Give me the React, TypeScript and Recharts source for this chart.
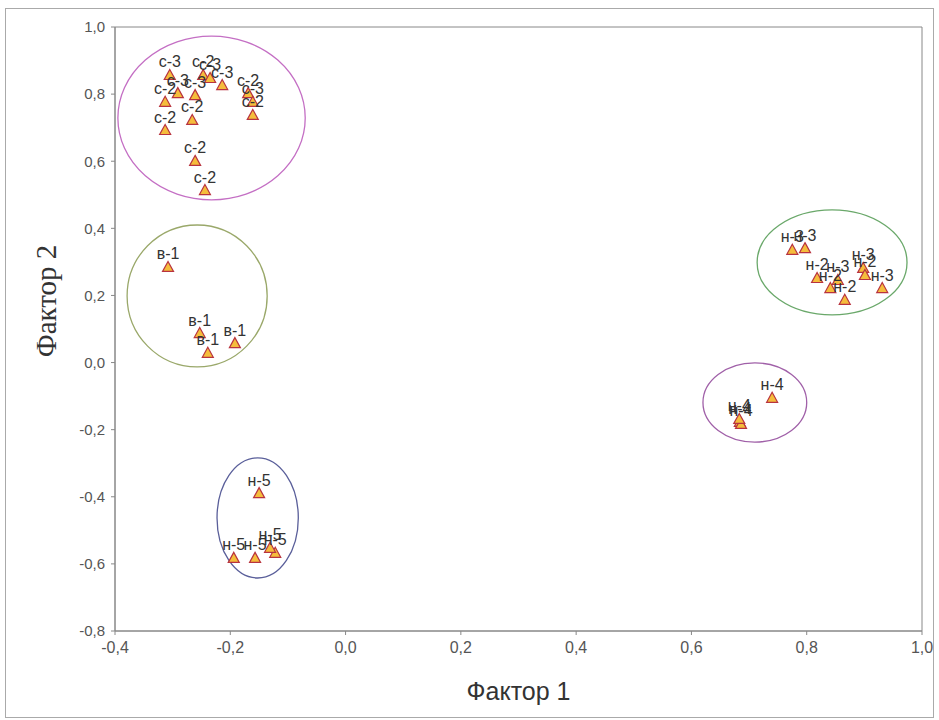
import React from 'react';
import {
  ScatterChart,
  Scatter,
  XAxis,
  YAxis,
  ReferenceArea,
  LabelList,
} from 'recharts';

// points per cluster
const clusterC = [
  { x: -0.305, y: 0.857, label: 'с-3' },
  { x: -0.291, y: 0.803, label: 'с-3' },
  { x: -0.313, y: 0.777, label: 'с-2' },
  { x: -0.261, y: 0.797, label: 'с-3' },
  { x: -0.247, y: 0.857, label: 'с-2' },
  { x: -0.235, y: 0.848, label: 'с-3' },
  { x: -0.214, y: 0.827, label: 'с-3' },
  { x: -0.169, y: 0.803, label: 'с-2' },
  { x: -0.161, y: 0.777, label: 'с-3' },
  { x: -0.161, y: 0.738, label: 'с-2' },
  { x: -0.266, y: 0.723, label: 'с-2' },
  { x: -0.313, y: 0.693, label: 'с-2' },
  { x: -0.261, y: 0.601, label: 'с-2' },
  { x: -0.244, y: 0.514, label: 'с-2' },
];

const clusterV = [
  { x: -0.308, y: 0.285, label: 'в-1' },
  { x: -0.253, y: 0.088, label: 'в-1' },
  { x: -0.239, y: 0.029, label: 'в-1' },
  { x: -0.192, y: 0.058, label: 'в-1' },
];

const clusterN5 = [
  { x: -0.15, y: -0.389, label: 'н-5' },
  { x: -0.194, y: -0.582, label: 'н-5' },
  { x: -0.157, y: -0.582, label: 'н-5' },
  { x: -0.122, y: -0.567, label: 'н-5' },
  { x: -0.131, y: -0.552, label: 'н-5' },
];

const clusterN4 = [
  { x: 0.74, y: -0.105, label: 'н-4' },
  { x: 0.684, y: -0.177, label: 'н-4' },
  { x: 0.686, y: -0.183, label: 'н-4' },
  { x: 0.683, y: -0.168, label: 'н-4' },
];

const clusterN3 = [
  { x: 0.775, y: 0.336, label: 'н-3' },
  { x: 0.797, y: 0.341, label: 'н-3' },
  { x: 0.818, y: 0.252, label: 'н-2' },
  { x: 0.854, y: 0.246, label: 'н-3' },
  { x: 0.841, y: 0.222, label: 'н-2' },
  { x: 0.866, y: 0.187, label: 'н-2' },
  { x: 0.898, y: 0.282, label: 'н-3' },
  { x: 0.901, y: 0.261, label: 'н-2' },
  { x: 0.931, y: 0.222, label: 'н-3' },
];

const clusters = [clusterC, clusterV, clusterN5, clusterN4, clusterN3];

// bounding boxes of the hand-drawn ellipses, in data units
const ellipseBounds = [
  { x1: -0.395, x2: -0.07, y1: 0.485, y2: 0.973 },
  { x1: -0.379, x2: -0.136, y1: -0.013, y2: 0.41 },
  { x1: -0.223, x2: -0.082, y1: -0.642, y2: -0.284 },
  { x1: 0.62, x2: 0.8, y1: -0.237, y2: -0.001 },
  { x1: 0.714, x2: 0.974, y1: 0.142, y2: 0.455 },
];
const ellipseColors = ['#c46fc4', '#9aa86a', '#5a5f9a', '#a060a8', '#6aa86a'];

const xTicks = [-0.4, -0.2, 0, 0.2, 0.4, 0.6, 0.8, 1.0];
const yTicks = [-0.8, -0.6, -0.4, -0.2, 0, 0.2, 0.4, 0.6, 0.8, 1.0];

const fmt = (v: number) => v.toFixed(1).replace('.', ',');

const Triangle = (props: any) => {
  const { cx, cy } = props;
  if (cx == null || cy == null) return null;
  return (
    <polygon
      points={`${cx},${cy - 5.5} ${cx + 5.5},${cy + 4.5} ${cx - 5.5},${cy + 4.5}`}
      fill="#f5bd3c"
      stroke="#b8333f"
      strokeWidth={1.2}
    />
  );
};

const ellipseShape = (color: string) => (props: any) => {
  const { x, y, width, height } = props;
  return (
    <ellipse
      cx={x + width / 2}
      cy={y + height / 2}
      rx={Math.abs(width) / 2}
      ry={Math.abs(height) / 2}
      fill="none"
      stroke={color}
      strokeWidth={1.3}
    />
  );
};

export default function App() {
  return (
    <div style={{ position: 'absolute', left: 0, top: 0, width: 939, height: 720, background: '#fff' }}>
      <div
        style={{
          position: 'absolute',
          left: 5,
          top: 8,
          width: 929,
          height: 710,
          border: '1px solid #aaa',
          boxSizing: 'border-box',
        }}
      />
      <div style={{ position: 'absolute', left: 0, top: 0 }}>
        <ScatterChart width={939} height={720} margin={{ top: 27, right: 17, left: 0, bottom: 0 }}>
          <XAxis
            type="number"
            dataKey="x"
            domain={[-0.4, 1.0]}
            ticks={xTicks}
            tickFormatter={fmt}
            height={89}
            tickSize={4}
            tickMargin={7}
            stroke="#888"
            tick={{ fill: '#555', fontSize: 16, fontFamily: 'Liberation Sans Narrow, Liberation Sans, Arial' }}
            allowDataOverflow
            label={{
              value: 'Фактор 1',
              position: 'insideBottom',
              offset: 20,
              style: { fill: '#333', fontSize: 25, fontFamily: 'Liberation Sans, Arial' },
            }}
          />
          <YAxis
            type="number"
            dataKey="y"
            domain={[-0.8, 1.0]}
            ticks={yTicks}
            tickFormatter={fmt}
            width={115}
            tickSize={4}
            tickMargin={6}
            stroke="#888"
            tick={{ fill: '#555', fontSize: 15, fontFamily: 'Liberation Sans, Arial' }}
            allowDataOverflow
            label={{
              content: (p: any) => {
                const vb = p.viewBox || {};
                const cy = vb.y + vb.height / 2 - 28;
                return (
                  <text
                    x={46}
                    y={cy}
                    transform={`rotate(-90 46 ${cy})`}
                    textAnchor="middle"
                    dominantBaseline="central"
                    fill="#333"
                    fontSize={29}
                    fontFamily="Liberation Serif, Times New Roman, serif"
                  >
                    Фактор 2
                  </text>
                );
              },
            }}
          />
          <ReferenceArea x1={-0.4} x2={1.0} y1={-0.8} y2={1.0} fill="none" stroke="#888" strokeOpacity={1} />
          {ellipseBounds.map((b, i) => (
            <ReferenceArea
              key={i}
              x1={b.x1}
              x2={b.x2}
              y1={b.y1}
              y2={b.y2}
              shape={ellipseShape(ellipseColors[i])}
            />
          ))}
          {clusters.map((c, i) => (
            <Scatter key={i} data={c} shape={Triangle} isAnimationActive={false}>
              <LabelList
                dataKey="label"
                position="top"
                offset={3}
                fill="#333"
                fontSize={16}
                fontFamily="Liberation Sans, Arial"
              />
            </Scatter>
          ))}
        </ScatterChart>
      </div>
    </div>
  );
}
